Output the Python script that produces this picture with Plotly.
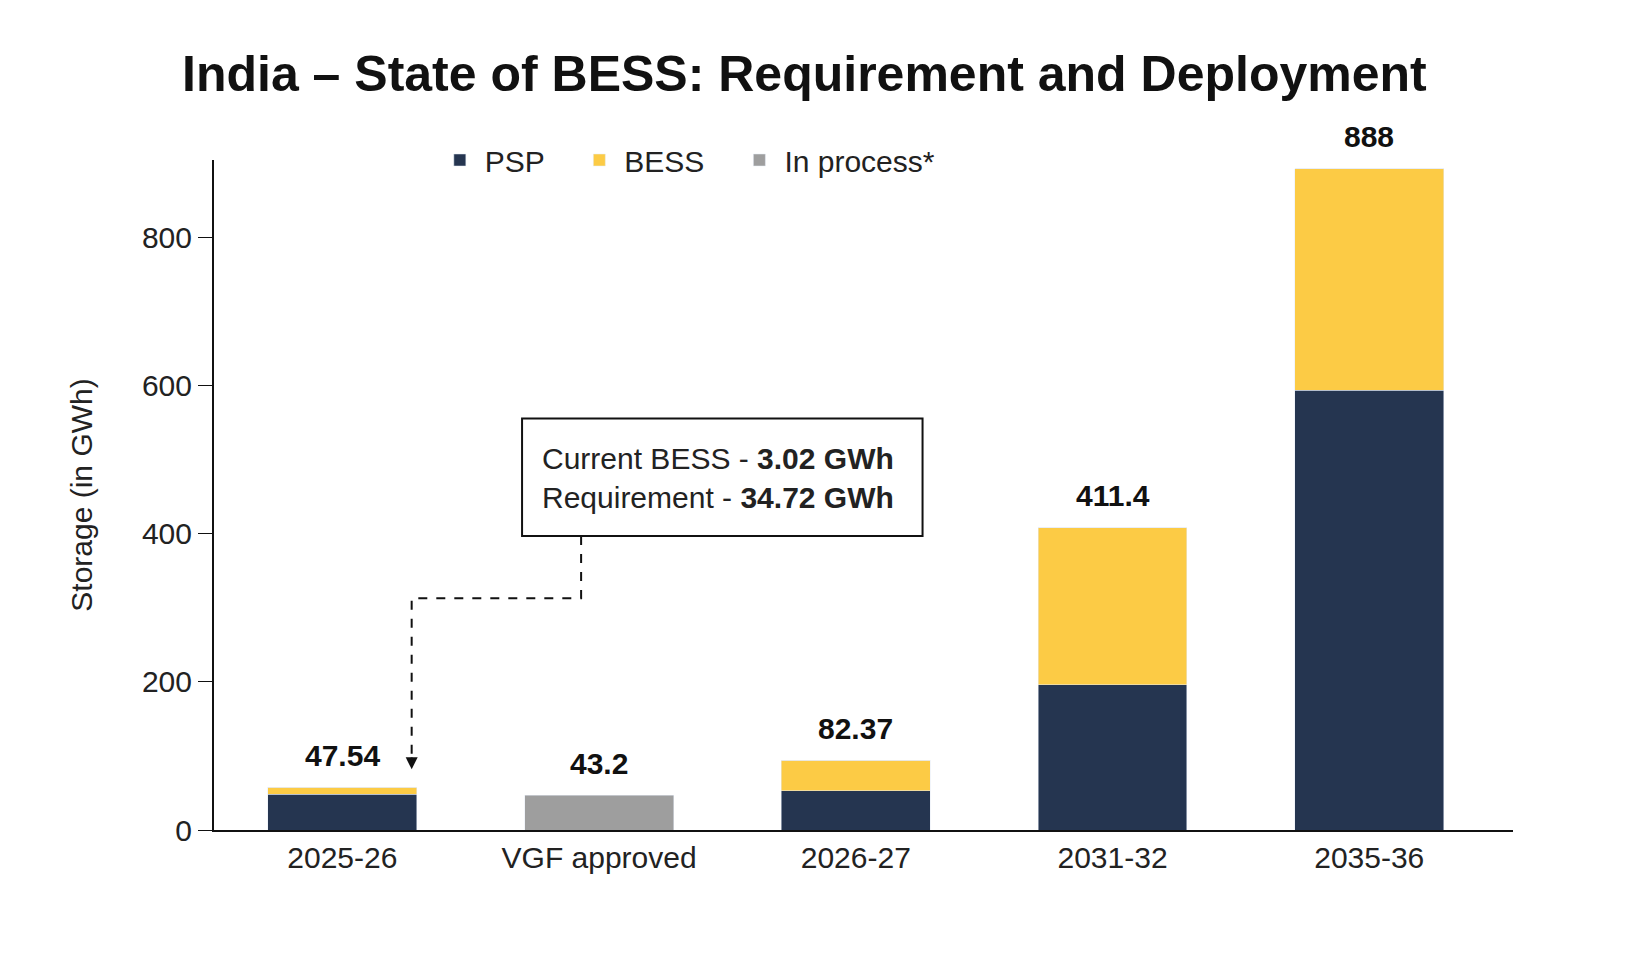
import plotly.graph_objects as go

categories = ["2025-26", "VGF approved", "2026-27", "2031-32", "2035-36"]
psp = [48, 0, 53, 196, 594]
bess = [10, 0, 41, 212, 299]
in_process = [0, 47, 0, 0, 0]
total_labels = ["47.54", "43.2", "82.37", "411.4", "888"]
label_y = [58, 47, 94, 408, 893]

FONT = "Liberation Sans Narrow, Arial Narrow, sans-serif"
NAVY, YELLOW, GREY = "#253550", "#FCCB45", "#9E9E9E"

fig = go.Figure()
fig.add_bar(x=categories, y=psp, name="PSP   ", marker_color=NAVY, width=0.58)
fig.add_bar(x=categories, y=bess, name="BESS   ", marker_color=YELLOW, width=0.58)
fig.add_bar(x=categories, y=in_process, name="In process*", marker_color=GREY, width=0.58)

for c, t, y in zip(categories, total_labels, label_y):
    fig.add_annotation(x=c, y=y, text=f"<b>{t}</b>", showarrow=False, yshift=32,
                       font=dict(size=30, color="#111", family=FONT))

# callout box with dashed arrow
fig.add_shape(type="rect", x0=0.70, x1=2.26, y0=397, y1=556, xref="x", yref="y",
              line=dict(color="#111", width=2), fillcolor="white")
fig.add_annotation(x=0.77, y=476, xanchor="left", showarrow=False, align="left",
                   text="Current BESS - <b>3.02 GWh</b><br>Requirement - <b>34.72 GWh</b>",
                   font=dict(size=30, color="#222", family=FONT))
fig.add_shape(type="path", path="M 0.93 397 L 0.93 313 L 0.27 313 L 0.27 95",
              xref="x", yref="y", line=dict(color="#111", width=2, dash="dash"))
fig.add_annotation(x=0.27, y=82, ax=0.27, ay=100, xref="x", yref="y", axref="x", ayref="y",
                   showarrow=True, arrowhead=2, arrowsize=1.2, arrowwidth=2, arrowcolor="#111", text="")

fig.update_layout(
    barmode="stack",
    width=1642, height=958,
    paper_bgcolor="white", plot_bgcolor="white",
    margin=dict(l=206, r=137, t=152, b=136),
    title=dict(text="<b>India – State of BESS: Requirement and Deployment</b>", x=0.485, y=0.95,
               xanchor="center", font=dict(size=50, color="#111", family=FONT)),
    legend=dict(orientation="h", x=0.17, y=1.0, yanchor="middle",
                font=dict(size=30, color="#222", family=FONT), itemwidth=40, traceorder="normal"),
    font=dict(family=FONT),
)
fig.update_xaxes(type="category", range=[-0.5, 4.56], showline=True, linecolor="#111", linewidth=2,
                 tickfont=dict(size=30, color="#222", family=FONT), ticks="")
fig.update_yaxes(range=[0, 905], showline=True, linecolor="#111", linewidth=2, showgrid=False,
                 tickvals=[0, 200, 400, 600, 800], ticks="outside", ticklen=14, tickcolor="#111",
                 tickfont=dict(size=30, color="#222", family=FONT), zeroline=False,
                 title=dict(text="Storage (in GWh)", font=dict(size=30, color="#222", family=FONT), standoff=40))

fig.write_html("out.html")
